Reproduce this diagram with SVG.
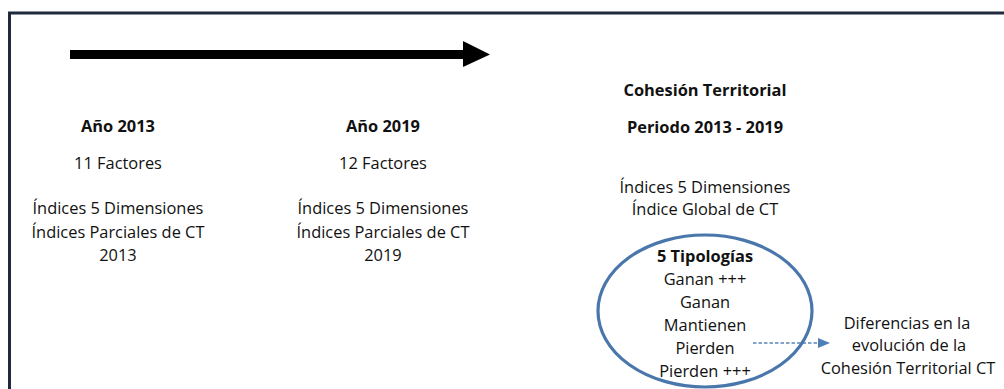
<svg xmlns="http://www.w3.org/2000/svg" width="1004" height="389" viewBox="0 0 1004 389">
  <style>
    text { font-family: "Open Sans", "Noto Sans", "Liberation Sans", sans-serif; font-size: 16.4px; fill: #111; text-anchor: middle; }
    .b { font-weight: bold; }
    .frame { fill: #ffffff; stroke: #1f2a3c; stroke-width: 3; }
    .ell { fill: none; stroke: #4a77ab; stroke-width: 3.2; }
    .dash { stroke: #5b86b8; stroke-width: 1.4; stroke-dasharray: 3.5 2; fill: none; }
  </style>
  <defs>
    <marker id="blueHead" viewBox="0 0 10 10" refX="10" refY="5" markerWidth="12" markerHeight="10" markerUnits="userSpaceOnUse" orient="auto" preserveAspectRatio="none">
      <path d="M0,0 L10,5 L0,10 Z" fill="#4f7fb8"/>
    </marker>
  </defs>
  <rect width="1004" height="389" fill="#ffffff"/>
  <rect class="frame" x="9.5" y="13" width="1010" height="400"/>

  <g id="connectors">
    <g id="timeline-arrow">
      <rect x="70" y="50" width="394" height="9" fill="#000"/>
      <polygon points="463,41 490,54.5 463,67" fill="#000"/>
    </g>
    <line id="to-diferencias" class="dash" x1="753" y1="343" x2="830" y2="343" marker-end="url(#blueHead)"/>
  </g>

  <g id="node-2013">
    <text class="b" x="118" y="132">Año 2013</text>
    <text x="118" y="169">11 Factores</text>
    <text x="118" y="214">Índices 5 Dimensiones</text>
    <text x="118" y="238">Índices Parciales de CT</text>
    <text x="118" y="261">2013</text>
  </g>

  <g id="node-2019">
    <text class="b" x="383" y="132">Año 2019</text>
    <text x="383" y="169">12 Factores</text>
    <text x="383" y="214">Índices 5 Dimensiones</text>
    <text x="383" y="238">Índices Parciales de CT</text>
    <text x="383" y="261">2019</text>
  </g>

  <g id="node-cohesion">
    <text class="b" x="705" y="96">Cohesión Territorial</text>
    <text class="b" x="705" y="133">Periodo 2013 - 2019</text>
    <text x="705" y="193">Índices 5 Dimensiones</text>
    <text x="705" y="215">Índice Global de CT</text>
  </g>

  <g id="node-tipologias">
    <ellipse class="ell" cx="705" cy="311" rx="107" ry="76"/>
    <text class="b" x="705" y="262">5 Tipologías</text>
    <text x="705" y="285">Ganan +++</text>
    <text x="705" y="308">Ganan</text>
    <text x="705" y="331">Mantienen</text>
    <text x="705" y="354">Pierden</text>
    <text x="705" y="377">Pierden +++</text>
  </g>

  <g id="node-diferencias">
    <text x="907" y="329">Diferencias en la</text>
    <text x="909" y="351">evolución de la</text>
    <text x="908" y="374">Cohesión Territorial CT</text>
  </g>
</svg>
